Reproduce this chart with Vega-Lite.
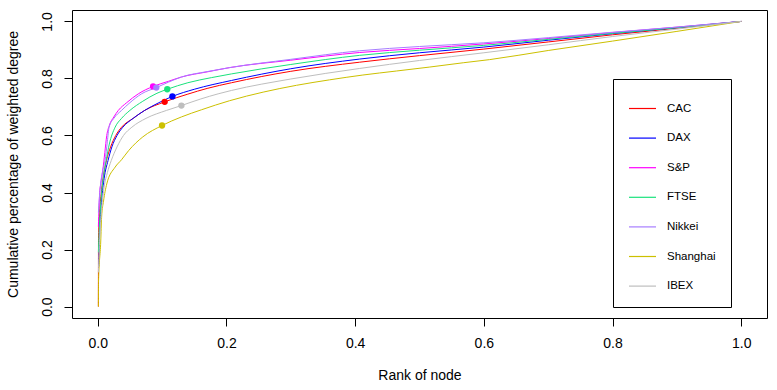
{
  "$schema": "https://vega.github.io/schema/vega-lite/v6.json",
  "width": 695,
  "height": 308,
  "autosize": {"type": "none"},
  "padding": {"left": 72, "top": 10, "right": 10, "bottom": 72},
  "background": "white",
  "config": {
    "font": "Liberation Sans",
    "view": {"stroke": "black", "strokeWidth": 1},
    "axis": {
      "grid": false,
      "domain": false,
      "tickColor": "black",
      "tickSize": 8,
      "tickWidth": 1,
      "labelFont": "Liberation Sans",
      "labelFontSize": 14,
      "labelColor": "black",
      "titleFont": "Liberation Sans",
      "titleFontSize": 14,
      "titleFontWeight": "normal",
      "titleColor": "black"
    }
  },
  "datasets": {
    "curves": [
      {"s": "CAC", "x": 0.001, "y": 0.0},
      {"s": "CAC", "x": 0.0012, "y": 0.24},
      {"s": "CAC", "x": 0.003, "y": 0.33},
      {"s": "CAC", "x": 0.006, "y": 0.41},
      {"s": "CAC", "x": 0.009, "y": 0.46},
      {"s": "CAC", "x": 0.0135, "y": 0.512},
      {"s": "CAC", "x": 0.02, "y": 0.56},
      {"s": "CAC", "x": 0.028, "y": 0.6},
      {"s": "CAC", "x": 0.037, "y": 0.629},
      {"s": "CAC", "x": 0.055, "y": 0.66},
      {"s": "CAC", "x": 0.073, "y": 0.688},
      {"s": "CAC", "x": 0.104, "y": 0.718},
      {"s": "CAC", "x": 0.14, "y": 0.745},
      {"s": "CAC", "x": 0.17, "y": 0.765},
      {"s": "CAC", "x": 0.208, "y": 0.785},
      {"s": "CAC", "x": 0.3, "y": 0.825},
      {"s": "CAC", "x": 0.407, "y": 0.857},
      {"s": "CAC", "x": 0.5, "y": 0.88},
      {"s": "CAC", "x": 0.6, "y": 0.903},
      {"s": "CAC", "x": 0.7, "y": 0.928},
      {"s": "CAC", "x": 0.8, "y": 0.953},
      {"s": "CAC", "x": 0.9, "y": 0.976},
      {"s": "CAC", "x": 1.0, "y": 1.0},

      {"s": "DAX", "x": 0.0015, "y": 0.14},
      {"s": "DAX", "x": 0.003, "y": 0.26},
      {"s": "DAX", "x": 0.006, "y": 0.37},
      {"s": "DAX", "x": 0.01, "y": 0.45},
      {"s": "DAX", "x": 0.016, "y": 0.512},
      {"s": "DAX", "x": 0.022, "y": 0.56},
      {"s": "DAX", "x": 0.03, "y": 0.6},
      {"s": "DAX", "x": 0.039, "y": 0.629},
      {"s": "DAX", "x": 0.055, "y": 0.66},
      {"s": "DAX", "x": 0.073, "y": 0.688},
      {"s": "DAX", "x": 0.095, "y": 0.715},
      {"s": "DAX", "x": 0.116, "y": 0.737},
      {"s": "DAX", "x": 0.15, "y": 0.762},
      {"s": "DAX", "x": 0.208, "y": 0.793},
      {"s": "DAX", "x": 0.3, "y": 0.834},
      {"s": "DAX", "x": 0.407, "y": 0.868},
      {"s": "DAX", "x": 0.5, "y": 0.89},
      {"s": "DAX", "x": 0.6, "y": 0.91},
      {"s": "DAX", "x": 0.7, "y": 0.934},
      {"s": "DAX", "x": 0.8, "y": 0.957},
      {"s": "DAX", "x": 0.9, "y": 0.978},
      {"s": "DAX", "x": 1.0, "y": 1.0},

      {"s": "S&P", "x": 0.001, "y": 0.28},
      {"s": "S&P", "x": 0.003, "y": 0.4},
      {"s": "S&P", "x": 0.0047, "y": 0.43},
      {"s": "S&P", "x": 0.0078, "y": 0.477},
      {"s": "S&P", "x": 0.011, "y": 0.54},
      {"s": "S&P", "x": 0.014, "y": 0.6},
      {"s": "S&P", "x": 0.018, "y": 0.635},
      {"s": "S&P", "x": 0.025, "y": 0.665},
      {"s": "S&P", "x": 0.032, "y": 0.688},
      {"s": "S&P", "x": 0.045, "y": 0.715},
      {"s": "S&P", "x": 0.063, "y": 0.746},
      {"s": "S&P", "x": 0.086, "y": 0.772},
      {"s": "S&P", "x": 0.11, "y": 0.79},
      {"s": "S&P", "x": 0.13, "y": 0.805},
      {"s": "S&P", "x": 0.17, "y": 0.823},
      {"s": "S&P", "x": 0.205, "y": 0.838},
      {"s": "S&P", "x": 0.3, "y": 0.864},
      {"s": "S&P", "x": 0.407, "y": 0.891},
      {"s": "S&P", "x": 0.5, "y": 0.905},
      {"s": "S&P", "x": 0.6, "y": 0.921},
      {"s": "S&P", "x": 0.7, "y": 0.94},
      {"s": "S&P", "x": 0.8, "y": 0.961},
      {"s": "S&P", "x": 0.9, "y": 0.98},
      {"s": "S&P", "x": 1.0, "y": 1.0},

      {"s": "FTSE", "x": 0.001, "y": 0.19},
      {"s": "FTSE", "x": 0.003, "y": 0.3},
      {"s": "FTSE", "x": 0.006, "y": 0.4},
      {"s": "FTSE", "x": 0.009, "y": 0.46},
      {"s": "FTSE", "x": 0.013, "y": 0.512},
      {"s": "FTSE", "x": 0.018, "y": 0.57},
      {"s": "FTSE", "x": 0.027, "y": 0.629},
      {"s": "FTSE", "x": 0.037, "y": 0.66},
      {"s": "FTSE", "x": 0.05, "y": 0.688},
      {"s": "FTSE", "x": 0.07, "y": 0.72},
      {"s": "FTSE", "x": 0.092, "y": 0.748},
      {"s": "FTSE", "x": 0.108, "y": 0.762},
      {"s": "FTSE", "x": 0.14, "y": 0.785},
      {"s": "FTSE", "x": 0.177, "y": 0.803},
      {"s": "FTSE", "x": 0.208, "y": 0.816},
      {"s": "FTSE", "x": 0.3, "y": 0.849},
      {"s": "FTSE", "x": 0.407, "y": 0.881},
      {"s": "FTSE", "x": 0.5, "y": 0.899},
      {"s": "FTSE", "x": 0.6, "y": 0.916},
      {"s": "FTSE", "x": 0.7, "y": 0.937},
      {"s": "FTSE", "x": 0.8, "y": 0.958},
      {"s": "FTSE", "x": 0.9, "y": 0.978},
      {"s": "FTSE", "x": 1.0, "y": 1.0},

      {"s": "Nikkei", "x": 0.001, "y": 0.33},
      {"s": "Nikkei", "x": 0.004, "y": 0.42},
      {"s": "Nikkei", "x": 0.008, "y": 0.48},
      {"s": "Nikkei", "x": 0.0114, "y": 0.512},
      {"s": "Nikkei", "x": 0.015, "y": 0.58},
      {"s": "Nikkei", "x": 0.0176, "y": 0.629},
      {"s": "Nikkei", "x": 0.025, "y": 0.66},
      {"s": "Nikkei", "x": 0.037, "y": 0.688},
      {"s": "Nikkei", "x": 0.05, "y": 0.715},
      {"s": "Nikkei", "x": 0.068, "y": 0.746},
      {"s": "Nikkei", "x": 0.091, "y": 0.768},
      {"s": "Nikkei", "x": 0.11, "y": 0.787},
      {"s": "Nikkei", "x": 0.13, "y": 0.805},
      {"s": "Nikkei", "x": 0.17, "y": 0.824},
      {"s": "Nikkei", "x": 0.205, "y": 0.838},
      {"s": "Nikkei", "x": 0.3, "y": 0.867},
      {"s": "Nikkei", "x": 0.407, "y": 0.897},
      {"s": "Nikkei", "x": 0.5, "y": 0.912},
      {"s": "Nikkei", "x": 0.6, "y": 0.925},
      {"s": "Nikkei", "x": 0.7, "y": 0.943},
      {"s": "Nikkei", "x": 0.8, "y": 0.962},
      {"s": "Nikkei", "x": 0.9, "y": 0.98},
      {"s": "Nikkei", "x": 1.0, "y": 1.0},

      {"s": "Shanghai", "x": 0.001, "y": 0.0},
      {"s": "Shanghai", "x": 0.0012, "y": 0.085},
      {"s": "Shanghai", "x": 0.0047, "y": 0.23},
      {"s": "Shanghai", "x": 0.006, "y": 0.313},
      {"s": "Shanghai", "x": 0.009, "y": 0.37},
      {"s": "Shanghai", "x": 0.014, "y": 0.43},
      {"s": "Shanghai", "x": 0.027, "y": 0.489},
      {"s": "Shanghai", "x": 0.037, "y": 0.515},
      {"s": "Shanghai", "x": 0.048, "y": 0.547},
      {"s": "Shanghai", "x": 0.07, "y": 0.595},
      {"s": "Shanghai", "x": 0.0999, "y": 0.635},
      {"s": "Shanghai", "x": 0.13, "y": 0.665},
      {"s": "Shanghai", "x": 0.161, "y": 0.69},
      {"s": "Shanghai", "x": 0.205, "y": 0.722},
      {"s": "Shanghai", "x": 0.257, "y": 0.752},
      {"s": "Shanghai", "x": 0.309, "y": 0.776},
      {"s": "Shanghai", "x": 0.36, "y": 0.795},
      {"s": "Shanghai", "x": 0.412, "y": 0.812},
      {"s": "Shanghai", "x": 0.464, "y": 0.826},
      {"s": "Shanghai", "x": 0.516, "y": 0.84},
      {"s": "Shanghai", "x": 0.568, "y": 0.855},
      {"s": "Shanghai", "x": 0.609, "y": 0.866},
      {"s": "Shanghai", "x": 0.7, "y": 0.898},
      {"s": "Shanghai", "x": 0.8, "y": 0.931},
      {"s": "Shanghai", "x": 0.9, "y": 0.965},
      {"s": "Shanghai", "x": 1.0, "y": 1.0},

      {"s": "IBEX", "x": 0.001, "y": 0.12},
      {"s": "IBEX", "x": 0.003, "y": 0.24},
      {"s": "IBEX", "x": 0.006, "y": 0.34},
      {"s": "IBEX", "x": 0.01, "y": 0.42},
      {"s": "IBEX", "x": 0.015, "y": 0.47},
      {"s": "IBEX", "x": 0.021, "y": 0.512},
      {"s": "IBEX", "x": 0.03, "y": 0.56},
      {"s": "IBEX", "x": 0.04, "y": 0.6},
      {"s": "IBEX", "x": 0.053, "y": 0.629},
      {"s": "IBEX", "x": 0.075, "y": 0.66},
      {"s": "IBEX", "x": 0.107, "y": 0.688},
      {"s": "IBEX", "x": 0.13, "y": 0.705},
      {"s": "IBEX", "x": 0.16, "y": 0.728},
      {"s": "IBEX", "x": 0.187, "y": 0.746},
      {"s": "IBEX", "x": 0.208, "y": 0.758},
      {"s": "IBEX", "x": 0.3, "y": 0.798},
      {"s": "IBEX", "x": 0.407, "y": 0.835},
      {"s": "IBEX", "x": 0.5, "y": 0.863},
      {"s": "IBEX", "x": 0.6, "y": 0.89},
      {"s": "IBEX", "x": 0.7, "y": 0.918},
      {"s": "IBEX", "x": 0.8, "y": 0.947},
      {"s": "IBEX", "x": 0.9, "y": 0.973},
      {"s": "IBEX", "x": 1.0, "y": 1.0}
    ],
    "dots": [
      {"s": "CAC", "x": 0.104, "y": 0.718},
      {"s": "DAX", "x": 0.116, "y": 0.737},
      {"s": "S&P", "x": 0.086, "y": 0.772},
      {"s": "FTSE", "x": 0.108, "y": 0.762},
      {"s": "Nikkei", "x": 0.091, "y": 0.768},
      {"s": "Shanghai", "x": 0.0999, "y": 0.635},
      {"s": "IBEX", "x": 0.13, "y": 0.705}
    ]
  },
  "layer": [
    {
      "data": {"name": "curves"},
      "mark": {"type": "line", "strokeWidth": 1, "interpolate": "monotone"},
      "encoding": {
        "x": {
          "field": "x", "type": "quantitative",
          "scale": {"domain": [-0.04, 1.04], "nice": false, "zero": false},
          "axis": {"values": [0, 0.2, 0.4, 0.6, 0.8, 1.0], "format": ".1f", "title": "Rank of node", "labelPadding": 10, "titlePadding": 18}
        },
        "y": {
          "field": "y", "type": "quantitative",
          "scale": {"domain": [-0.04, 1.04], "nice": false, "zero": false},
          "axis": {"values": [0, 0.2, 0.4, 0.6, 0.8, 1.0], "format": ".1f", "title": "Cumulative percentage of weighted degree", "labelAngle": -90, "labelAlign": "center", "labelBaseline": "bottom", "labelPadding": 10, "titlePadding": 20}
        },
        "color": {
          "field": "s", "type": "nominal",
          "scale": {
            "domain": ["CAC", "DAX", "S&P", "FTSE", "Nikkei", "Shanghai", "IBEX"],
            "range": ["#FF0000", "#0000FF", "#FF00FF", "#19E27C", "#A77DFF", "#CCC000", "#BEBEBE"]
          },
          "legend": {
            "orient": "none", "legendX": 541, "legendY": 69,
            "title": null, "strokeColor": "black", "fillColor": "white",
            "padding": 15, "symbolType": "stroke", "symbolSize": 729, "symbolStrokeWidth": 1.2,
            "rowPadding": 9.6, "labelOffset": 10, "labelFontSize": 11.5, "labelFont": "Liberation Sans", "labelColor": "black"
          }
        },
        "detail": {"field": "s", "type": "nominal"},
        "order": {"field": "x", "type": "quantitative"}
      }
    },
    {
      "data": {"name": "dots"},
      "mark": {"type": "point", "filled": true, "opacity": 1, "size": 40},
      "encoding": {
        "x": {"field": "x", "type": "quantitative"},
        "y": {"field": "y", "type": "quantitative"},
        "color": {"field": "s", "type": "nominal"}
      }
    }
  ]
}
